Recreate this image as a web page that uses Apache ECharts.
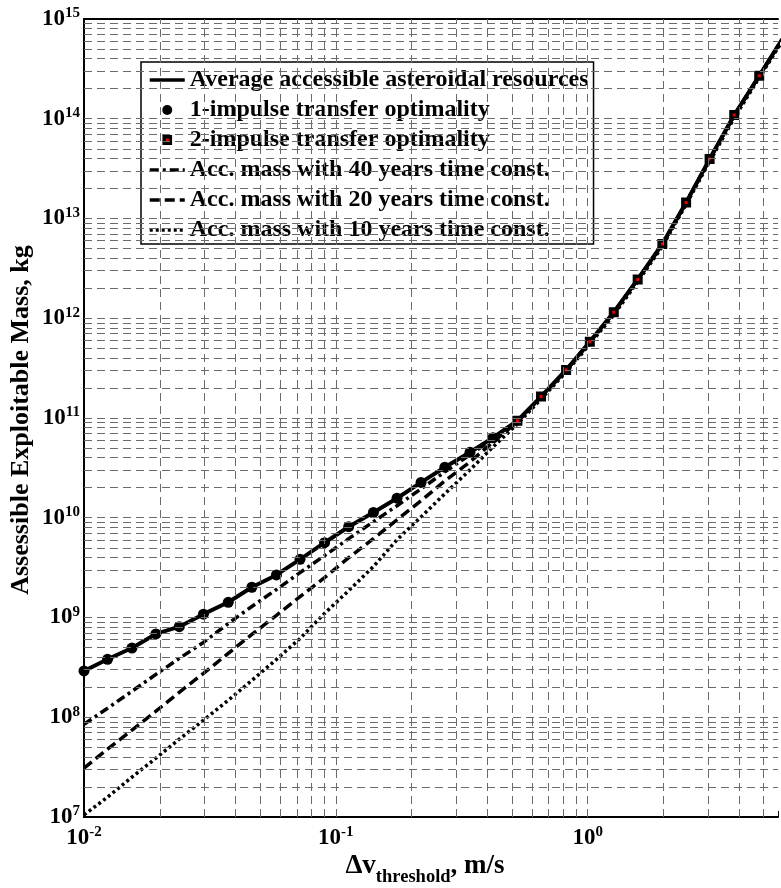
<!DOCTYPE html>
<html>
<head>
<meta charset="utf-8">
<title>Accessible mass vs delta-v</title>
<script src="https://cdn.jsdelivr.net/npm/echarts@6/dist/echarts.min.js"></script>
<style>
  html, body { margin: 0; padding: 0; background: #fff; }
  #chart { width: 781px; height: 888px; }
</style>
</head>
<body>
<div id="chart"></div>
<script>
// delta-v threshold, m/s (last value only continues the curves past the right edge)
var dv = [0.01, 0.0124, 0.0155, 0.0193, 0.0239, 0.0298, 0.0374, 0.0464, 0.0581, 0.0721,
  0.0902, 0.1125, 0.141, 0.175, 0.218, 0.271, 0.341, 0.421, 0.526, 0.653,
  0.821, 1.02, 1.27, 1.58, 1.98, 2.46, 3.05, 3.82, 4.8, 6.0]

// average accessible asteroidal resources, kg
var massAvg = [2.91e8, 3.81e8, 4.94e8, 6.84e8, 8.09e8, 1.08e9, 1.42e9, 2.01e9, 2.67e9, 3.83e9,
  5.62e9, 8.13e9, 1.13e10, 1.57e10, 2.26e10, 3.21e10, 4.53e10, 6.34e10, 9.4e10, 1.64e11,
  3.03e11, 5.82e11, 1.15e12, 2.45e12, 5.55e12, 1.45e13, 3.94e13, 1.09e14, 2.70e14, 6.6e14]

// accessible mass with 40 / 20 / 10 years time constraint, kg
var mass40 = [8.51e7, 1.23e8, 1.82e8, 2.69e8, 3.89e8, 5.62e8, 8.71e8, 1.29e9, 1.91e9, 2.82e9,
  4.17e9, 6.17e9, 9.12e9, 1.32e10, 1.95e10, 2.88e10, 4.27e10, 6.17e10, 9.3e10, 1.63e11,
  3.0e11, 5.8e11, 1.15e12, 2.45e12, 5.5e12, 1.45e13, 3.92e13, 1.08e14, 2.69e14, 6.6e14]
var mass20 = [3.09e7, 4.79e7, 7.41e7, 1.15e8, 1.78e8, 2.75e8, 4.37e8, 6.76e8, 1.05e9, 1.62e9,
  2.51e9, 3.98e9, 6.17e9, 9.55e9, 1.48e10, 2.34e10, 3.63e10, 5.75e10, 9.12e10, 1.62e11,
  3.0e11, 5.78e11, 1.14e12, 2.44e12, 5.5e12, 1.44e13, 3.92e13, 1.08e14, 2.68e14, 6.6e14]
var mass10 = [1.05e7, 1.58e7, 2.51e7, 3.89e7, 6.03e7, 9.33e7, 1.48e8, 2.34e8, 3.80e8, 6.17e8,
  1.10e9, 1.86e9, 3.24e9, 6.03e9, 1.02e10, 1.74e10, 3.02e10, 5.13e10, 8.71e10, 1.55e11,
  2.88e11, 5.5e11, 1.08e12, 2.32e12, 5.25e12, 1.38e13, 3.72e13, 1.02e14, 2.57e14, 6.31e14]

// markers: first points are 1-impulse optimal, the rest 2-impulse, up to the last marker
var oneImpulseCount = 18
var markerCount = 29

var names = [
  'Average accessible asteroidal resources',
  '1-impulse transfer optimality',
  '2-impulse transfer optimality',
  'Acc. mass with 40 years time const.',
  'Acc. mass with 20 years time const.',
  'Acc. mass with 10 years time const.'
]

var xMin = 0.01, xMax = 5.7
var yMin = 1e7, yMax = 1e15

function pairs (xs, ys, from, to) {
  var out = []
  for (var i = from; i < to; i++) out.push([xs[i], ys[i]])
  return out
}

// grid lines at 1..9 x 10^k, like matlab "grid minor" on log axes
function logGrid (lo, hi) {
  var out = []
  for (var e = Math.floor(Math.log10(lo)); e <= Math.ceil(Math.log10(hi)); e++) {
    for (var m = 1; m <= 9; m++) {
      var v = m * Math.pow(10, e)
      if (v > lo * 1.0001 && v < hi * 0.9999) out.push(v)
    }
  }
  return out
}

var serif = 'Liberation Serif'
var gridStyle = { color: '#6b6b6b', width: 1, type: [8, 5] }

function powLabel (v) {
  var e = Math.log10(v)
  if (Math.abs(e - Math.round(e)) > 1e-6) return ''
  return '{b|10}{s|' + Math.round(e) + '}'
}
var powRich = {
  b: { fontFamily: serif, fontWeight: 'bold', fontSize: 23, color: '#000', lineHeight: 26 },
  s: { fontFamily: serif, fontWeight: 'bold', fontSize: 15, color: '#000', verticalAlign: 'top', lineHeight: 16 }
}

// black square with a small red centre, for the 2-impulse legend entry
var squareIcon = 'image://data:image/svg+xml;utf8,' + encodeURIComponent(
  '<svg xmlns="http://www.w3.org/2000/svg" width="10" height="10">' +
  '<rect width="10" height="10" fill="#000"/><rect x="3.5" y="3.5" width="3" height="3" fill="#e00000"/></svg>')

var hideDot = { opacity: 0 }

var gridLines = logGrid(xMin, xMax).map(function (v) { return { xAxis: v } })
  .concat(logGrid(yMin, yMax).map(function (v) { return { yAxis: v } }))

var chart = echarts.init(document.getElementById('chart'))
chart.setOption({
  animation: false,
  backgroundColor: '#fff',
  grid: { left: 84, right: 0, top: 19, bottom: 71 },
  xAxis: [{
    type: 'log', min: xMin, max: xMax, logBase: 10,
    axisLine: { lineStyle: { color: '#000', width: 2 } },
    axisTick: { inside: true, length: 6, lineStyle: { color: '#000', width: 1 } },
    splitLine: { show: false },
    axisLabel: { formatter: powLabel, rich: powRich, margin: 8 }
  }, {
    type: 'log', min: xMin, max: xMax, logBase: 10, position: 'top',
    axisLine: { lineStyle: { color: '#000', width: 2 } },
    axisTick: { show: false }, axisLabel: { show: false }, splitLine: { show: false }
  }],
  yAxis: {
    type: 'log', min: yMin, max: yMax, logBase: 10, splitNumber: 8,
    axisLine: { lineStyle: { color: '#000', width: 2 } },
    axisTick: { inside: true, length: 6, lineStyle: { color: '#000', width: 1 } },
    splitLine: { show: false },
    axisLabel: { formatter: powLabel, rich: powRich, margin: 4 }
  },
  legend: {
    orient: 'vertical', left: 141, top: 62,
    padding: [6, 5, 2, 7],
    itemWidth: 35, itemHeight: 10, itemGap: 6,
    backgroundColor: '#fff', borderColor: '#000', borderWidth: 1.5,
    lineStyle: { width: 3.5 },
    textStyle: { fontFamily: serif, fontWeight: 'bold', fontSize: 24, color: '#000', lineHeight: 24 },
    data: [
      { name: names[0], itemStyle: hideDot },
      { name: names[1], icon: 'circle' },
      { name: names[2], icon: squareIcon },
      { name: names[3], itemStyle: hideDot },
      { name: names[4], itemStyle: hideDot },
      { name: names[5], itemStyle: hideDot }
    ]
  },
  graphic: [{
    type: 'text', x: 21, y: 420, rotation: Math.PI / 2,
    style: {
      text: 'Assessible Exploitable Mass, kg', fill: '#000',
      font: 'bold 26px "Liberation Serif"', align: 'center', verticalAlign: 'middle'
    }
  }, {
    type: 'text', x: 425, y: 866,
    style: {
      text: '{n|Δv}{sub|threshold}{n|, m/s}',
      align: 'center', verticalAlign: 'middle',
      rich: {
        n: { fontFamily: serif, fontWeight: 'bold', fontSize: 27, fill: '#000', lineHeight: 27 },
        sub: { fontFamily: serif, fontWeight: 'bold', fontSize: 18.5, fill: '#000', verticalAlign: 'bottom', lineHeight: 18, padding: [0, 0, -7, 0] }
      }
    }
  }],
  series: [{
    name: 'grid', type: 'line', data: [], z: 1, silent: true,
    markLine: { silent: true, symbol: 'none', label: { show: false }, lineStyle: gridStyle, data: gridLines }
  }, {
    name: names[0], type: 'line', z: 3, symbol: 'none',
    lineStyle: { color: '#000', width: 4 }, itemStyle: { color: '#000' },
    data: pairs(dv, massAvg, 0, dv.length)
  }, {
    name: names[1], type: 'scatter', z: 4, symbol: 'circle', symbolSize: 11,
    itemStyle: { color: '#000', opacity: 1 },
    data: pairs(dv, massAvg, 0, oneImpulseCount)
  }, {
    name: names[2], type: 'scatter', z: 4, symbol: 'rect', symbolSize: 6.5,
    itemStyle: { color: '#e00000', borderColor: '#000', borderWidth: 3.5, opacity: 1 },
    data: pairs(dv, massAvg, oneImpulseCount, markerCount)
  }, {
    name: names[3], type: 'line', z: 2, symbol: 'none',
    lineStyle: { color: '#000', width: 3.5, type: [9, 4, 3, 4] }, itemStyle: { color: '#000' },
    data: pairs(dv, mass40, 0, dv.length)
  }, {
    name: names[4], type: 'line', z: 2, symbol: 'none',
    lineStyle: { color: '#000', width: 3.5, type: [10, 5] }, itemStyle: { color: '#000' },
    data: pairs(dv, mass20, 0, dv.length)
  }, {
    name: names[5], type: 'line', z: 2, symbol: 'none',
    lineStyle: { color: '#000', width: 3.5, type: [3, 3] }, itemStyle: { color: '#000' },
    data: pairs(dv, mass10, 0, dv.length)
  }]
})
</script>
</body>
</html>
